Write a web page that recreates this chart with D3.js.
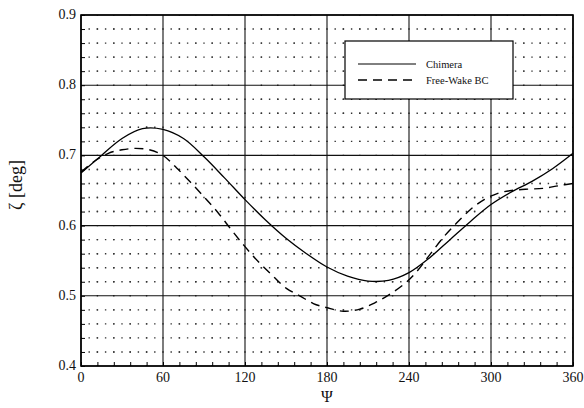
<!DOCTYPE html>
<html>
<head>
<meta charset="utf-8">
<script src="https://cdn.jsdelivr.net/npm/d3@7"></script>
<style>
  html, body { margin: 0; padding: 0; background: #fff; }
  svg { display: block; }
  text { font-family: "Liberation Serif", "DejaVu Serif", serif; fill: #111; }
</style>
</head>
<body>
<svg id="chart" width="584" height="408"></svg>
<script>
// Azimuth angle (deg) and elastic twist response for the two solvers
const chimeraPsi = [0, 15, 30, 45, 60, 75, 90, 105, 120, 135, 150, 165, 180, 195, 210, 225, 240, 255, 270, 285, 300, 315, 330, 345, 360];
const chimeraZeta = [0.675, 0.700, 0.724, 0.738, 0.737, 0.724, 0.698, 0.668, 0.637, 0.608, 0.582, 0.560, 0.541, 0.528, 0.521, 0.522, 0.533, 0.554, 0.580, 0.606, 0.630, 0.648, 0.663, 0.681, 0.703];

const freeWakePsi = [0, 10, 20, 30, 40, 50, 60, 70, 80, 90, 100, 110, 120, 130, 140, 150, 160, 170, 180, 192, 204, 215, 225, 236, 245, 255, 265, 275, 285, 295, 305, 315, 327, 338, 350, 360];
const freeWakeZeta = [0.676, 0.692, 0.703, 0.708, 0.710, 0.708, 0.700, 0.682, 0.662, 0.641, 0.619, 0.594, 0.570, 0.548, 0.529, 0.511, 0.500, 0.489, 0.483, 0.478, 0.481, 0.490, 0.501, 0.516, 0.533, 0.558, 0.583, 0.604, 0.623, 0.637, 0.646, 0.650, 0.652, 0.653, 0.657, 0.660];

const xTicks = [0, 60, 120, 180, 240, 300, 360];
const yTicks = [0.4, 0.5, 0.6, 0.7, 0.8, 0.9];
const seriesNames = ["Chimera", "Free-Wake BC"];

const svg = d3.select("#chart");
const margin = { left: 81, right: 11, top: 15, bottom: 42 };
const W = 584, H = 408;
const x = d3.scaleLinear().domain([0, 360]).range([margin.left, W - margin.right]);
const y = d3.scaleLinear().domain([0.4, 0.9]).range([H - margin.bottom, margin.top]);

const xMinor = d3.range(0, 361, 12);
const yMinor = d3.range(0.4, 0.9001, 0.02).map(v => +v.toFixed(2));
const xStep = x(12) - x(0);
const yStep = y(0.4) - y(0.42);

// dotted minor grid: dots fall on the minor intersections
const g = svg.append("g");
g.selectAll(".mx").data(xMinor.filter(v => v % 60 !== 0)).enter().append("line")
  .attr("x1", d => x(d)).attr("x2", d => x(d))
  .attr("y1", y(0.9)).attr("y2", y(0.4))
  .attr("stroke", "#333").attr("stroke-width", 1.4)
  .attr("stroke-dasharray", `1.4,${yStep - 1.4}`).attr("stroke-dashoffset", 0.7);
g.selectAll(".my").data(yMinor.filter(v => Math.round(v * 100) % 10 !== 0)).enter().append("line")
  .attr("x1", x(0)).attr("x2", x(360))
  .attr("y1", d => y(d)).attr("y2", d => y(d))
  .attr("stroke", "#333").attr("stroke-width", 1.4)
  .attr("stroke-dasharray", `1.4,${xStep / 2 - 1.4}`).attr("stroke-dashoffset", 0.7);

// major grid
g.selectAll(".Mx").data(xTicks).enter().append("line")
  .attr("x1", d => x(d)).attr("x2", d => x(d))
  .attr("y1", y(0.9)).attr("y2", y(0.4))
  .attr("stroke", "#111").attr("stroke-width", 1.1);
g.selectAll(".My").data(yTicks).enter().append("line")
  .attr("x1", x(0)).attr("x2", x(360))
  .attr("y1", d => y(d)).attr("y2", d => y(d))
  .attr("stroke", "#111").attr("stroke-width", 1.1);

// frame
svg.append("rect")
  .attr("x", x(0)).attr("y", y(0.9))
  .attr("width", x(360) - x(0)).attr("height", y(0.4) - y(0.9))
  .attr("fill", "none").attr("stroke", "#000").attr("stroke-width", 1.6);

// inward minor ticks
const xAxis = d3.axisBottom(x).tickValues(xMinor).tickSize(-4).tickFormat("");
const yAxis = d3.axisLeft(y).tickValues(yMinor).tickSize(-4).tickFormat("");
svg.append("g").attr("transform", `translate(0,${y(0.4)})`).call(xAxis)
  .call(s => s.select(".domain").remove())
  .call(s => s.selectAll("line").attr("stroke", "#000"));
svg.append("g").attr("transform", `translate(${x(0)},0)`).call(yAxis)
  .call(s => s.select(".domain").remove())
  .call(s => s.selectAll("line").attr("stroke", "#000"));

// tick labels
svg.append("g").selectAll("text").data(xTicks).enter().append("text")
  .attr("x", d => x(d)).attr("y", y(0.4) + 16)
  .attr("text-anchor", "middle").attr("font-size", 14).text(d => d);
svg.append("g").selectAll("text").data(yTicks).enter().append("text")
  .attr("x", x(0) - 5).attr("y", d => y(d) + 4)
  .attr("text-anchor", "end").attr("font-size", 14).text(d => d.toFixed(1));

// axis titles
svg.append("text").attr("x", (x(0) + x(360)) / 2).attr("y", 402)
  .attr("text-anchor", "middle").attr("font-size", 16).text("Ψ");
svg.append("text").attr("transform", `translate(22,185) rotate(-90)`)
  .attr("text-anchor", "middle").attr("font-size", 18).text("ζ [deg]");

// curves
const line = d3.line().x(d => x(d[0])).y(d => y(d[1])).curve(d3.curveCatmullRom.alpha(0.5));
svg.append("path").datum(chimeraPsi.map((p, i) => [p, chimeraZeta[i]]))
  .attr("d", line).attr("fill", "none").attr("stroke", "#000").attr("stroke-width", 1.3);
svg.append("path").datum(freeWakePsi.map((p, i) => [p, freeWakeZeta[i]]))
  .attr("d", line).attr("fill", "none").attr("stroke", "#000").attr("stroke-width", 1.4)
  .attr("stroke-dasharray", "9,6");

// legend
const lg = svg.append("g").attr("transform", "translate(345,41)");
lg.append("rect").attr("width", 168).attr("height", 58)
  .attr("fill", "#fff").attr("stroke", "#000").attr("stroke-width", 1.2);
const dashes = [null, "9,6"];
seriesNames.forEach((name, i) => {
  const yy = 23 + i * 16;
  lg.append("line").attr("x1", 13).attr("x2", 71).attr("y1", yy).attr("y2", yy)
    .attr("stroke", "#000").attr("stroke-width", i ? 1.4 : 1)
    .attr("stroke-dasharray", dashes[i]);
  lg.append("text").attr("x", 81).attr("y", yy + 3.5).attr("font-size", 10.5).text(name);
});
</script>
</body>
</html>
